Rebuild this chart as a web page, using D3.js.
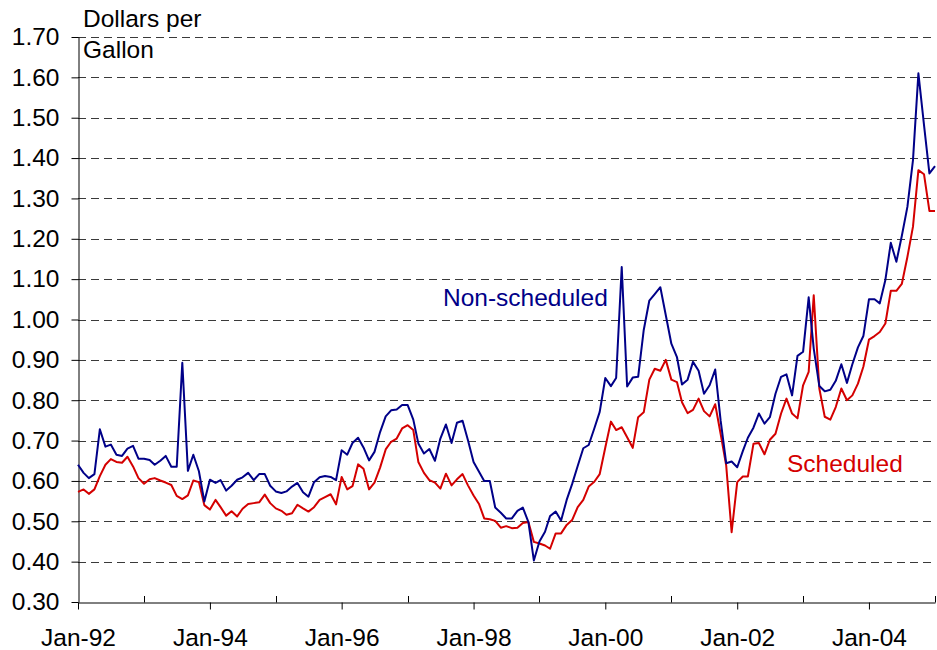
<!DOCTYPE html>
<html>
<head>
<meta charset="utf-8">
<script src="https://cdn.jsdelivr.net/npm/d3@7"></script>
<style>
  body { margin: 0; background: #fff; }
  svg text { font-family: "Liberation Sans", Arial, sans-serif; }
</style>
</head>
<body>
<svg id="chart"></svg>
<script>
// monthly series, Jan-92 .. Jan-05
var startMonth = new Date(1992, 0, 1);
var endMonth = new Date(2005, 0, 1);

var nonScheduled = [
  0.640, 0.620, 0.607, 0.617, 0.728, 0.685, 0.690, 0.665, 0.662, 0.680, 0.687, 0.655,
  0.655, 0.652, 0.640, 0.650, 0.662, 0.635, 0.635, 0.893, 0.625, 0.665, 0.624, 0.549,
  0.603, 0.595, 0.602, 0.576, 0.588, 0.603, 0.609, 0.620, 0.602, 0.617, 0.617, 0.588,
  0.574, 0.570, 0.574, 0.586, 0.595, 0.572, 0.561, 0.597, 0.609, 0.612, 0.610, 0.602,
  0.676, 0.665, 0.694, 0.707, 0.683, 0.651, 0.672, 0.721, 0.760, 0.775, 0.777, 0.788,
  0.788, 0.752, 0.693, 0.668, 0.679, 0.650, 0.705, 0.740, 0.694, 0.744, 0.749, 0.701,
  0.647, 0.622, 0.600, 0.600, 0.534, 0.521, 0.507, 0.507, 0.526, 0.534, 0.498, 0.403,
  0.450, 0.474, 0.513, 0.524, 0.502, 0.553, 0.592, 0.637, 0.681, 0.689, 0.730, 0.771,
  0.855, 0.835, 0.855, 1.130, 0.834, 0.856, 0.858, 0.974, 1.047, 1.063, 1.080, 1.011,
  0.940, 0.907, 0.839, 0.851, 0.895, 0.873, 0.816, 0.837, 0.876, 0.750, 0.644, 0.648,
  0.634, 0.674, 0.707, 0.732, 0.767, 0.742, 0.758, 0.816, 0.858, 0.864, 0.812, 0.910,
  0.920, 1.055, 0.928, 0.835, 0.822, 0.826, 0.848, 0.889, 0.843, 0.889, 0.931, 0.959,
  1.050, 1.050, 1.040, 1.098, 1.190, 1.143, 1.207, 1.279, 1.395, 1.610, 1.482, 1.362,
  1.380
];

var scheduled = [
  0.573, 0.579, 0.568, 0.579, 0.612, 0.640, 0.654, 0.647, 0.645, 0.660, 0.636, 0.607,
  0.593, 0.604, 0.607, 0.601, 0.596, 0.590, 0.563, 0.555, 0.564, 0.601, 0.597, 0.540,
  0.529, 0.553, 0.535, 0.514, 0.525, 0.512, 0.531, 0.543, 0.545, 0.547, 0.566, 0.545,
  0.532, 0.526, 0.516, 0.520, 0.541, 0.532, 0.524, 0.535, 0.553, 0.560, 0.567, 0.542,
  0.610, 0.579, 0.587, 0.641, 0.630, 0.579, 0.596, 0.633, 0.678, 0.697, 0.705, 0.730,
  0.738, 0.726, 0.647, 0.620, 0.602, 0.596, 0.581, 0.618, 0.589, 0.604, 0.617, 0.589,
  0.564, 0.542, 0.507, 0.505, 0.501, 0.484, 0.488, 0.483, 0.484, 0.496, 0.498, 0.449,
  0.445, 0.440, 0.432, 0.470, 0.470, 0.491, 0.503, 0.535, 0.553, 0.586, 0.598, 0.617,
  0.683, 0.747, 0.726, 0.733, 0.708, 0.682, 0.758, 0.770, 0.851, 0.878, 0.873, 0.900,
  0.851, 0.845, 0.795, 0.768, 0.776, 0.804, 0.773, 0.760, 0.790, 0.717, 0.638, 0.473,
  0.597, 0.611, 0.611, 0.692, 0.694, 0.666, 0.702, 0.717, 0.767, 0.804, 0.767, 0.755,
  0.837, 0.870, 1.060, 0.829, 0.759, 0.752, 0.783, 0.829, 0.800, 0.812, 0.841, 0.883,
  0.950, 0.959, 0.969, 0.990, 1.071, 1.071, 1.088, 1.155, 1.230, 1.370, 1.360, 1.269,
  1.269
];

var yTicks = [0.30, 0.40, 0.50, 0.60, 0.70, 0.80, 0.90, 1.00, 1.10, 1.20, 1.30, 1.40, 1.50, 1.60, 1.70];
var xLabels = ["Jan-92", "Jan-94", "Jan-96", "Jan-98", "Jan-00", "Jan-02", "Jan-04"];
var unitLines = ["Dollars per", "Gallon"];
var seriesNames = ["Non-scheduled", "Scheduled"];

(function () {
  var width = 937,
    height = 650,
    plotLeft = 78,
    plotRight = 935,
    plotTop = 37,
    plotBottom = 602,
    fontSize = 24.5;

  var months = d3.timeMonth.range(startMonth, d3.timeMonth.offset(endMonth, 1));
  var years = d3.timeYear.range(startMonth, d3.timeYear.offset(endMonth, 1));
  var parseLabel = d3.timeParse("%b-%y");

  var x = d3.scaleTime()
    .domain([startMonth, endMonth])
    .range([plotLeft, plotRight]);

  var y = d3.scaleLinear()
    .domain([0.30, 1.70])
    .range([plotBottom, plotTop]);

  var svg = d3.select("#chart")
    .attr("width", width)
    .attr("height", height);

  // dashed gridlines
  svg.append("g")
    .selectAll("line")
    .data(yTicks.slice(1))
    .join("line")
    .attr("x1", plotLeft)
    .attr("x2", plotRight)
    .attr("y1", d => Math.round(y(d)) + 0.5)
    .attr("y2", d => Math.round(y(d)) + 0.5)
    .attr("stroke", "#3a3a3a")
    .attr("stroke-width", 1)
    .attr("stroke-dasharray", "8,5");

  // y axis
  var yAxis = svg.append("g")
    .attr("transform", "translate(" + (plotLeft + 0.5) + ",0)")
    .call(d3.axisLeft(y).tickValues(yTicks).tickFormat(d3.format(".2f")).tickSize(7).tickPadding(12).tickSizeOuter(0));
  yAxis.selectAll("text").attr("font-size", fontSize).attr("fill", "#000");
  yAxis.selectAll("line, path").attr("stroke", "#000");

  // x axis: labelled ticks outside, odd years inside
  var labelDates = xLabels.map(parseLabel);
  var xAxis = svg.append("g")
    .attr("transform", "translate(0," + (plotBottom + 0.5) + ")")
    .call(d3.axisBottom(x).tickValues(labelDates).tickFormat(d3.timeFormat("%b-%y")).tickSize(7).tickPadding(19).tickSizeOuter(0));
  xAxis.selectAll("text").attr("font-size", fontSize).attr("fill", "#000");
  xAxis.selectAll("line, path").attr("stroke", "#000");

  svg.append("g")
    .selectAll("line")
    .data(years.filter(d => d.getFullYear() % 2 === 1))
    .join("line")
    .attr("x1", d => Math.round(x(d)) + 0.5)
    .attr("x2", d => Math.round(x(d)) + 0.5)
    .attr("y1", plotBottom + 0.5)
    .attr("y2", plotBottom - 6)
    .attr("stroke", "#000");

  // lines
  var line = d3.line()
    .x((d, i) => x(months[i]))
    .y(d => y(d));

  svg.append("path")
    .datum(scheduled)
    .attr("fill", "none")
    .attr("stroke", "#d40000")
    .attr("stroke-width", 2)
    .attr("stroke-linejoin", "round")
    .attr("d", line);

  svg.append("path")
    .datum(nonScheduled)
    .attr("fill", "none")
    .attr("stroke", "#000088")
    .attr("stroke-width", 2)
    .attr("stroke-linejoin", "round")
    .attr("d", line);

  // unit label
  svg.append("text")
    .attr("font-size", fontSize)
    .attr("fill", "#000")
    .selectAll("tspan")
    .data(unitLines)
    .join("tspan")
    .attr("x", 83)
    .attr("y", (d, i) => 27 + i * 31)
    .text(d => d);

  // series labels
  svg.append("text")
    .attr("x", 443)
    .attr("y", 306)
    .attr("font-size", fontSize)
    .attr("fill", "#000088")
    .text(seriesNames[0]);

  svg.append("text")
    .attr("x", 787)
    .attr("y", 472)
    .attr("font-size", fontSize)
    .attr("fill", "#d40000")
    .text(seriesNames[1]);
})();
</script>
</body>
</html>
